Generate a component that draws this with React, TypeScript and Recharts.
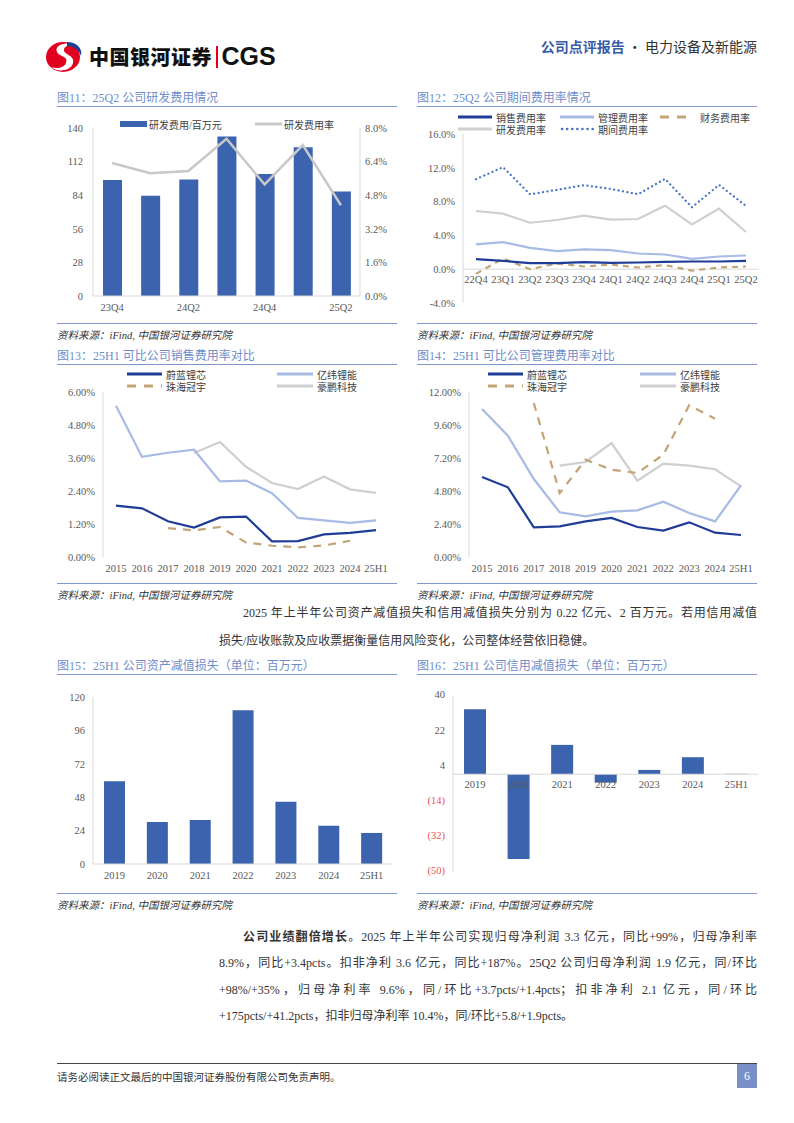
import React from 'react';
import {
  ComposedChart, BarChart, LineChart, Bar, Line, XAxis, YAxis, ReferenceLine, LabelList,
} from 'recharts';

// ---- 图11 研发费用 ----
const rdQuarters = ['23Q4', '24Q1', '24Q2', '24Q3', '24Q4', '25Q1', '25Q2'];
const rdExpense = [96.6, 83.5, 97.1, 133, 101.6, 123.9, 87.1];
const rdRate = [6.33, 5.85, 5.95, 7.49, 5.31, 7.19, 4.32];

// ---- 图12 期间费用率 ----
const periodQuarters = ['22Q4', '23Q1', '23Q2', '23Q3', '23Q4', '24Q1', '24Q2', '24Q3', '24Q4', '25Q1', '25Q2'];
const salesRate = [1.19, 0.99, 0.71, 0.71, 0.83, 0.75, 0.79, 0.87, 0.91, 0.91, 0.99];
const adminRate = [2.93, 3.21, 2.53, 2.14, 2.34, 2.26, 1.86, 1.74, 1.23, 1.5, 1.62];
const financeRate = [-0.55, 1.27, 0.0, 0.67, 0.32, 0.55, 0.2, 0.48, -0.16, 0.2, 0.32];
const researchRate = [6.89, 6.57, 5.5, 5.82, 6.34, 5.86, 5.94, 7.52, 5.31, 7.17, 4.4];
const totalRate = [10.65, 12.08, 8.87, 9.39, 9.94, 9.5, 8.87, 10.69, 7.33, 9.98, 7.49];

// ---- 图13 / 图14 可比公司 ----
const peerYears = ['2015', '2016', '2017', '2018', '2019', '2020', '2021', '2022', '2023', '2024', '25H1'];
const sellWeilan = [1.87, 1.77, 1.3, 1.07, 1.44, 1.47, 0.57, 0.58, 0.82, 0.88, 0.98];
const sellYiwei = [5.5, 3.64, 3.79, 3.9, 2.75, 2.78, 2.32, 1.42, 1.33, 1.24, 1.33];
const sellZhuhai = [null, null, 1.05, 0.97, 1.09, 0.53, 0.41, 0.35, 0.42, 0.59, null];
const sellHaopeng = [null, null, null, 3.78, 4.18, 3.28, 2.69, 2.47, 2.93, 2.46, 2.33];
const mgmtWeilan = [5.82, 5.07, 2.16, 2.23, 2.59, 2.84, 2.18, 1.92, 2.52, 1.77, 1.6];
const mgmtYiwei = [10.76, 8.82, 5.67, 3.25, 2.96, 3.3, 3.39, 4.02, 3.2, 2.59, 5.21];
const mgmtZhuhai = [null, null, 11.2, 4.65, 7.08, 6.35, 6.11, 7.44, 11.03, 10.06, null];
const mgmtHaopeng = [null, null, null, 6.64, 6.91, 8.29, 5.55, 6.79, 6.64, 6.38, 5.14];

// ---- 图15 / 图16 减值损失 ----
const lossYears = ['2019', '2020', '2021', '2022', '2023', '2024', '25H1'];
const assetLoss = [59.4, 30.2, 31.6, 110.4, 44.8, 27.5, 22.3];
const creditLoss = [33.2, -43.3, 15.0, -4.3, 2.2, 8.7, 0.2];

const NAVY = '#1f3c96';
const LIGHT = '#a7bbe5';
const TAN = '#c2a476';
const GRAY = '#cfcfcf';
const DOTS = '#4472c4';
const BAR = '#3b63ae';
const AXIS = '#d9d9d9';
const TITLE = '#6f8dca';
const RULE = '#7f98cc';
const SERIF = "'Liberation Serif', 'Noto Sans CJK SC', serif";
const tickStyle = { fill: '#595959', fontSize: 10.5, fontFamily: SERIF };

const rdData = rdQuarters.map((q, i) => ({ q, exp: rdExpense[i], rate: rdRate[i] }));
const periodData = periodQuarters.map((q, i) => ({
  q, sales: salesRate[i], admin: adminRate[i], fin: financeRate[i], rd: researchRate[i], total: totalRate[i],
}));
const sellData = peerYears.map((y, i) => ({ y, a: sellWeilan[i], b: sellYiwei[i], c: sellZhuhai[i], d: sellHaopeng[i] }));
const mgmtData = peerYears.map((y, i) => ({ y, a: mgmtWeilan[i], b: mgmtYiwei[i], c: mgmtZhuhai[i], d: mgmtHaopeng[i] }));
const assetData = lossYears.map((y, i) => ({ y, v: assetLoss[i] }));
const creditData = lossYears.map((y, i) => ({ y, v: creditLoss[i] }));

type Swatch = 'rect' | 'solid' | 'dash' | 'dot';

function Key({ x, y, type, color, label, len = 34, gap = 4 }: any) {
  const s = type as Swatch;
  return (
    <div style={{ position: 'absolute', left: x, top: y - 7, height: 14, display: 'flex', alignItems: 'center', fontSize: 10, color: '#404040', whiteSpace: 'nowrap' }}>
      <svg width={len} height={8}>
        {s === 'rect' && <rect x={0} y={1} width={len} height={6} fill={color} />}
        {s === 'solid' && <line x1={0} y1={4} x2={len} y2={4} stroke={color} strokeWidth={3} />}
        {s === 'dash' && <line x1={0} y1={4} x2={len} y2={4} stroke={color} strokeWidth={3} strokeDasharray="9 8" />}
        {s === 'dot' && <line x1={2} y1={4} x2={len} y2={4} stroke={color} strokeWidth={2.5} strokeDasharray="0.1 5" strokeLinecap="round" />}
      </svg>
      <span style={{ marginLeft: gap }}>{label}</span>
    </div>
  );
}

function Panel({ x, top, title, bottom }: any) {
  return (
    <>
      <div style={{ position: 'absolute', left: x, top: top - 9, fontSize: 12, color: TITLE, whiteSpace: 'nowrap', fontFamily: SERIF }}>{title}</div>
      <div style={{ position: 'absolute', left: x, top: top + 9, width: 340, height: 0, borderTop: `1.5px solid ${RULE}` }} />
      <div style={{ position: 'absolute', left: x, top: bottom, width: 340, height: 0, borderTop: `1.5px solid ${RULE}` }} />
      <div style={{ position: 'absolute', left: x, top: bottom + 4, fontSize: 10.5, fontStyle: 'italic', color: '#333', whiteSpace: 'nowrap', fontFamily: SERIF }}>
        资料来源：iFind, 中国银河证券研究院
      </div>
    </>
  );
}

// x-axis labels that sit just under the zero line
function zeroTick(zeroY: number) {
  return (props: any) => (
    <text x={props.x} y={zeroY + 11} textAnchor="middle" dominantBaseline="middle" style={tickStyle}>
      {props.payload.value}
    </text>
  );
}

function zeroLabel(zeroY: number) {
  return (props: any) => (
    <text x={props.x + props.width / 2} y={zeroY + 11} textAnchor="middle" dominantBaseline="middle" style={tickStyle}>
      {props.value}
    </text>
  );
}

function CreditYTick(props: any) {
  const v = props.payload.value;
  const neg = v < 0;
  return (
    <text x={props.x} y={props.y} textAnchor="end" dominantBaseline="middle" style={{ ...tickStyle, fill: neg ? '#f05050' : '#595959' }}>
      {neg ? `(${-v})` : v}
    </text>
  );
}

function Chart11() {
  return (
    <div style={{ position: 'absolute', left: 57, top: 110 }}>
      <ComposedChart width={340} height={205} data={rdData} margin={{ top: 18, right: 0, bottom: 3, left: 0 }}>
        <XAxis dataKey="q" interval={1} height={16} tickLine={false} axisLine={{ stroke: AXIS }} tick={tickStyle} />
        <YAxis yAxisId="l" width={36} domain={[0, 140]} ticks={[0, 28, 56, 84, 112, 140]} tickLine={false} axisLine={{ stroke: AXIS }} tick={tickStyle} tickMargin={4} />
        <YAxis yAxisId="r" orientation="right" width={37} domain={[0, 8]} ticks={[0, 1.6, 3.2, 4.8, 6.4, 8]}
          tickFormatter={(v: number) => `${v.toFixed(1)}%`} tickLine={false} tickSize={0} tickMargin={5} axisLine={{ stroke: AXIS }} tick={tickStyle} />
        <Bar yAxisId="l" dataKey="exp" fill={BAR} barSize={19} isAnimationActive={false} />
        <Line yAxisId="r" dataKey="rate" stroke="#c8c8c8" strokeWidth={2.5} dot={false} isAnimationActive={false} />
      </ComposedChart>
      <Key x={63} y={14} type="rect" color={BAR} label="研发费用/百万元" len={27} gap={2} />
      <Key x={198} y={14} type="solid" color="#c8c8c8" label="研发费用率" len={27} gap={2} />
    </div>
  );
}

function Chart12() {
  const zeroY = 24 + (16 / 20) * 169;
  return (
    <div style={{ position: 'absolute', left: 417, top: 110 }}>
      <LineChart width={348} height={205} data={periodData} margin={{ top: 24, right: 6, bottom: 0, left: 0 }}>
        <XAxis dataKey="q" height={12} padding={{ left: 13, right: 13 }} tickLine={false} axisLine={false} tick={zeroTick(zeroY)} interval={0} />
        <YAxis width={46} domain={[-4, 16]} ticks={[-4, 0, 4, 8, 12, 16]} tickFormatter={(v: number) => `${v.toFixed(1)}%`}
          tickLine={false} axisLine={{ stroke: AXIS }} tick={tickStyle} />
        <ReferenceLine y={0} stroke={AXIS} />
        <Line dataKey="rd" stroke={GRAY} strokeWidth={2.2} dot={false} isAnimationActive={false} />
        <Line dataKey="admin" stroke={LIGHT} strokeWidth={2.2} dot={false} isAnimationActive={false} />
        <Line dataKey="fin" stroke={TAN} strokeWidth={2.2} strokeDasharray="6 5" dot={false} isAnimationActive={false} />
        <Line dataKey="sales" stroke={NAVY} strokeWidth={2.2} dot={false} isAnimationActive={false} />
        <Line dataKey="total" stroke={DOTS} strokeWidth={2.2} strokeDasharray="0.1 4.4" strokeLinecap="round" dot={false} isAnimationActive={false} />
      </LineChart>
      <Key x={41} y={7} type="solid" color={NAVY} label="销售费用率" />
      <Key x={143} y={7} type="solid" color={LIGHT} label="管理费用率" />
      <Key x={243} y={7} type="dash" color={TAN} label="财务费用率" len={31} gap={9} />
      <Key x={41} y={19} type="solid" color={GRAY} label="研发费用率" />
      <Key x={143} y={19} type="dot" color={DOTS} label="期间费用率" />
    </div>
  );
}

function PeerChart({ left, data, max, yWidth, marginRight, keyX }: any) {
  const step = max / 5;
  const ticks = [0, 1, 2, 3, 4, 5].map((i) => +(i * step).toFixed(2));
  return (
    <div style={{ position: 'absolute', left, top: 365 }}>
      <LineChart width={left > 400 ? 348 : 340} height={215} data={data} margin={{ top: 27, right: marginRight, bottom: 3, left: 0 }}>
        <XAxis dataKey="y" height={20} padding={{ left: 13, right: 13 }} tickLine={false} axisLine={false} tick={tickStyle} interval={0} />
        <YAxis width={yWidth} domain={[0, max]} ticks={ticks} tickFormatter={(v: number) => `${v.toFixed(2)}%`}
          tickLine={false} axisLine={{ stroke: AXIS }} tick={tickStyle} allowDataOverflow />
        <Line dataKey="d" stroke={GRAY} strokeWidth={2.2} dot={false} isAnimationActive={false} />
        <Line dataKey="b" stroke={LIGHT} strokeWidth={2.2} dot={false} isAnimationActive={false} />
        <Line dataKey="c" stroke={TAN} strokeWidth={2.2} strokeDasharray="8 7" dot={false} isAnimationActive={false} />
        <Line dataKey="a" stroke={NAVY} strokeWidth={2.2} dot={false} isAnimationActive={false} />
      </LineChart>
      <Key x={keyX[0]} y={9} type="solid" color={NAVY} label="蔚蓝锂芯" len={35} />
      <Key x={keyX[1]} y={9} type="solid" color={LIGHT} label="亿纬锂能" len={36} />
      <Key x={keyX[0]} y={21} type="dash" color={TAN} label="珠海冠宇" len={35} />
      <Key x={keyX[1]} y={21} type="solid" color={GRAY} label="豪鹏科技" len={36} />
    </div>
  );
}

function Chart15() {
  return (
    <div style={{ position: 'absolute', left: 57, top: 680 }}>
      <BarChart width={340} height={210} data={assetData} margin={{ top: 17, right: 4, bottom: 4, left: 0 }}>
        <XAxis dataKey="y" height={22} tickLine={false} axisLine={{ stroke: AXIS }} tick={tickStyle} interval={0} />
        <YAxis width={36} domain={[0, 120]} ticks={[0, 24, 48, 72, 96, 120]} tickLine={false} axisLine={{ stroke: AXIS }} tick={tickStyle} />
        <Bar dataKey="v" fill={BAR} barSize={21} isAnimationActive={false} />
      </BarChart>
    </div>
  );
}

function Chart16() {
  const zeroY = 16 + (40 / 90) * 176;
  return (
    <div style={{ position: 'absolute', left: 417, top: 680 }}>
      <BarChart width={345} height={210} data={creditData} margin={{ top: 16, right: 4, bottom: 17, left: 0 }}>
        <XAxis dataKey="y" height={1} tickLine={false} axisLine={false} tick={false} interval={0} />
        <YAxis width={36} domain={[-50, 40]} ticks={[-50, -32, -14, 4, 22, 40]} tickLine={false} axisLine={{ stroke: AXIS }} tick={<CreditYTick />} />
        <ReferenceLine y={0} stroke={AXIS} />
        <Bar dataKey="v" fill={BAR} barSize={22} isAnimationActive={false}>
          <LabelList dataKey="y" content={zeroLabel(zeroY)} />
        </Bar>
      </BarChart>
    </div>
  );
}

function TextLine({ x, y, width, children, last }: any) {
  return (
    <div style={{
      position: 'absolute', left: x, top: y - 10, width, fontSize: 12, lineHeight: '20px', color: '#333',
      textAlign: 'justify', textAlignLast: last ? 'left' : 'justify', fontFamily: SERIF,
    }}>{children}</div>
  );
}

function Logo() {
  return (
    <div style={{ position: 'absolute', left: 45, top: 40, display: 'flex', alignItems: 'center' }}>
      <svg width={38} height={33} viewBox="0 0 38 33">
        <ellipse cx={18} cy={17} rx={17} ry={15} fill="#e1001e" />
        <path d="M29 5 C20 1 9 5 12 12 C14 17 24 16 21 23 C19 28 12 29 6 27 C13 33 26 31 28 23 C30 15 19 15 19 10 C19 6 24 5 29 5 Z" fill="#ffffff" />
        <path d="M22 2 C31 2 38 8 36 16 C34 10 29 6 22 6 Z" fill="#1c3f94" />
      </svg>
      <span style={{ marginLeft: 6, fontFamily: "'Noto Sans CJK SC', sans-serif", fontWeight: 900, fontSize: 20, color: '#111', letterSpacing: 0.5 }}>中国银河证券</span>
      <span style={{ marginLeft: 4, width: 1.5, height: 22, background: '#e1001e' }} />
      <span style={{ marginLeft: 4, fontFamily: "'Liberation Sans', Arial, sans-serif", fontWeight: 700, fontSize: 25, color: '#111' }}>CGS</span>
    </div>
  );
}

export default function App() {
  return (
    <div style={{ position: 'absolute', left: 0, top: 0, width: 794, height: 1123, background: '#fff', fontFamily: SERIF, overflow: 'hidden' }}>
      <Logo />
      <div style={{ position: 'absolute', right: 37, top: 36, fontSize: 14, whiteSpace: 'nowrap', fontFamily: "'Noto Sans CJK SC', sans-serif" }}>
        <span style={{ color: '#3a5ba8', fontWeight: 700 }}>公司点评报告</span>
        <span style={{ color: '#333' }}> · 电力设备及新能源</span>
      </div>

      <Panel x={57} top={97} title="图11：25Q2 公司研发费用情况" bottom={323} />
      <Panel x={417} top={97} title="图12：25Q2 公司期间费用率情况" bottom={323} />
      <Chart11 />
      <Chart12 />

      <Panel x={57} top={355} title="图13：25H1 可比公司销售费用率对比" bottom={583} />
      <Panel x={417} top={355} title="图14：25H1 可比公司管理费用率对比" bottom={583} />
      <PeerChart left={57} data={sellData} max={6} yWidth={46} marginRight={8} keyX={[70, 220]} />
      <PeerChart left={417} data={mgmtData} max={12} yWidth={52} marginRight={11} keyX={[71, 223]} />

      <TextLine x={243} y={613} width={514}>2025 年上半年公司资产减值损失和信用减值损失分别为 0.22 亿元、2 百万元。若用信用减值</TextLine>
      <TextLine x={219} y={641} width={538} last>损失/应收账款及应收票据衡量信用风险变化，公司整体经营依旧稳健。</TextLine>

      <Panel x={57} top={665} title="图15：25H1 公司资产减值损失（单位：百万元）" bottom={893} />
      <Panel x={417} top={665} title="图16：25H1 公司信用减值损失（单位：百万元）" bottom={893} />
      <Chart15 />
      <Chart16 />

      <TextLine x={243} y={936} width={514}><b style={{ fontFamily: "'Noto Sans CJK SC', sans-serif" }}>公司业绩翻倍增长</b>。2025 年上半年公司实现归母净利润 3.3 亿元，同比+99%，归母净利率</TextLine>
      <TextLine x={219} y={963} width={538}>8.9%，同比+3.4pcts。扣非净利 3.6 亿元，同比+187%。25Q2 公司归母净利润 1.9 亿元，同/环比</TextLine>
      <TextLine x={219} y={990} width={538}>+98%/+35%，归母净利率 9.6%，同/环比+3.7pcts/+1.4pcts；扣非净利 2.1 亿元，同/环比</TextLine>
      <TextLine x={219} y={1016} width={538} last>+175pcts/+41.2pcts，扣非归母净利率 10.4%，同/环比+5.8/+1.9pcts。</TextLine>

      <div style={{ position: 'absolute', left: 57, top: 1063, width: 700, borderTop: '1px solid #444' }} />
      <div style={{ position: 'absolute', left: 57, top: 1069, fontSize: 10.5, color: '#333', whiteSpace: 'nowrap' }}>请务必阅读正文最后的中国银河证券股份有限公司免责声明。</div>
      <div style={{ position: 'absolute', left: 737, top: 1064, width: 20, height: 24, background: '#7890c6', color: '#fff', fontSize: 12, display: 'flex', alignItems: 'center', justifyContent: 'center' }}>6</div>
    </div>
  );
}
